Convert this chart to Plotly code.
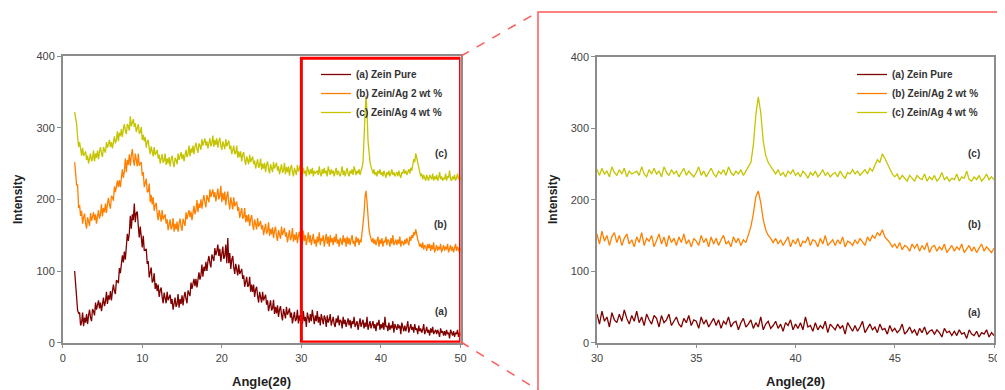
import numpy as np
import plotly.graph_objects as go

# Sampling grids (degrees 2-theta)
LOW_START, LOW_STEP = 1.5, 0.125     # 1.5 .. 29.875
HIGH_START, HIGH_STEP = 30.0, 0.125  # 30 .. 50

series_names = ["(a) Zein Pure", "(b) Zein/Ag 2 wt %", "(c) Zein/Ag 4 wt %"]
series_colors = ["#800000", "#FF8000", "#C4C400"]

# (a) Zein Pure, 1.5-29.875 deg
zein_pure_low = [
    100, 82, 74, 45, 41, 42, 24, 28, 42, 23, 35, 28, 40, 26, 38, 46,
    35, 30, 47, 44, 38, 56, 46, 52, 59, 48, 56, 44, 56, 63, 51, 57,
    71, 54, 66, 60, 72, 59, 72, 81, 72, 68, 87, 86, 83, 104, 97, 108,
    122, 112, 127, 116, 137, 152, 142, 153, 177, 159, 179, 171, 194, 168, 181, 183,
    163, 147, 162, 148, 133, 149, 129, 129, 131, 110, 114, 91, 101, 105, 84, 86,
    97, 75, 83, 72, 81, 64, 73, 77, 64, 55, 70, 63, 55, 71, 59, 63,
    67, 54, 61, 46, 57, 63, 50, 54, 68, 49, 61, 54, 66, 52, 64, 71,
    61, 55, 73, 70, 65, 84, 75, 82, 89, 79, 89, 77, 90, 98, 88, 94,
    109, 92, 106, 100, 113, 100, 113, 121, 111, 105, 123, 119, 114, 132, 122, 128,
    137, 121, 131, 113, 127, 134, 117, 121, 137, 111, 146, 111, 125, 103, 116, 121,
    105, 96, 110, 103, 94, 109, 96, 99, 103, 89, 94, 78, 88, 92, 78, 80,
    92, 71, 81, 71, 81, 64, 74, 78, 65, 56, 71, 64, 56, 71, 59, 63,
    67, 53, 59, 44, 54, 59, 45, 48, 60, 40, 50, 41, 52, 36, 46, 51,
    39, 31, 47, 41, 34, 50, 39, 43, 48, 35, 42, 27, 38, 43, 30, 33,
    46, 27, 38, 30,
]
# (a) Zein Pure, 30-50 deg
zein_pure_high = [
    40, 26, 44, 30, 36, 22, 42, 32,
    28, 40, 30, 46, 34, 26, 38, 30,
    44, 28, 36, 24, 40, 32, 26, 38,
    34, 22, 38, 28, 32, 40, 24, 30,
    36, 26, 22, 34, 28, 38, 24, 32,
    30, 20, 36, 26, 32, 22, 28, 34,
    24, 32, 20, 30, 26, 36, 22, 28,
    30, 18, 28, 34, 22, 26, 32, 20,
    28, 22, 36, 18, 26, 30, 20, 24,
    30, 20, 26, 16, 28, 24, 32, 18,
    26, 20, 28, 18, 36, 22, 24, 16,
    28, 18, 24, 20, 30, 14, 26, 22,
    18, 26, 20, 24, 12, 28, 22, 16,
    24, 16, 22, 30, 14, 20, 26, 18,
    22, 14, 26, 18, 20, 12, 24, 16,
    20, 14, 18, 26, 12, 16, 22, 14,
    18, 10, 20, 14, 22, 12, 16, 18,
    12, 18, 14, 8, 20, 14, 16, 10,
    16, 10, 18, 12, 14, 6, 18, 12,
    10, 16, 8, 14, 12, 18, 8, 14,
    10,
]

# (b) Zein/Ag 2 wt %, 1.5-29.875 deg
zein_ag2_low = [
    252, 230, 220, 220, 188, 192, 177, 184, 166, 175, 180, 167, 159, 175, 170, 163,
    181, 170, 176, 182, 171, 179, 166, 178, 185, 173, 179, 193, 176, 188, 182, 194,
    181, 194, 202, 192, 187, 205, 203, 198, 218, 210, 218, 226, 217, 227, 217, 231,
    242, 230, 239, 257, 238, 255, 248, 263, 247, 261, 270, 255, 247, 264, 257, 246,
    264, 247, 250, 252, 233, 238, 217, 226, 229, 210, 211, 222, 196, 206, 193, 203,
    184, 192, 195, 180, 171, 185, 178, 169, 185, 172, 176, 179, 166, 172, 157, 167,
    172, 158, 162, 174, 155, 166, 158, 169, 155, 166, 173, 162, 156, 173, 169, 163,
    182, 172, 179, 185, 175, 183, 171, 183, 191, 179, 185, 199, 182, 194, 188, 200,
    187, 199, 206, 195, 189, 206, 202, 196, 214, 203, 209, 214, 203, 210, 197, 208,
    215, 200, 205, 219, 196, 209, 199, 211, 192, 204, 211, 195, 186, 203, 196, 186,
    203, 190, 194, 197, 184, 189, 174, 183, 188, 173, 176, 188, 168, 178, 169, 179,
    163, 173, 178, 165, 157, 172, 166, 158, 174, 162, 166, 170, 158, 164, 150, 160,
    166, 152, 156, 168, 149, 159, 151, 161, 146, 156, 162, 149, 142, 157, 152, 145,
    162, 150, 155, 160, 148, 154, 140, 151, 157, 143, 147, 160, 141, 151, 143, 154,
    139, 149, 155, 143,
]
# (b) Zein/Ag 2 wt %, 30-50 deg
zein_ag2_high = [
    152, 138, 156, 142, 150, 136, 148, 154,
    140, 150, 136, 146, 152, 138, 144, 134,
    148, 140, 154, 136, 146, 142, 150, 134,
    144, 152, 138, 148, 134, 150, 140, 146,
    136, 148, 140, 152, 138, 144, 134, 146,
    142, 136, 150, 140, 146, 134, 148, 138,
    146, 136, 144, 150, 138, 142, 134, 148,
    140, 146, 136, 144, 140, 152, 162, 180,
    204, 212, 196, 172, 158, 150, 146, 140,
    146, 138, 144, 136, 142, 148, 134, 144,
    138, 146, 134, 142, 140, 148, 136, 144,
    142, 134, 146, 138, 150, 136, 140, 144,
    136, 144, 138, 148, 134, 142, 140, 136,
    144, 138, 146, 140, 136, 148, 142, 150,
    146, 154, 150, 158, 148, 144, 140, 134,
    138, 132, 140, 130, 136, 134, 128, 138,
    132, 138, 128, 136, 130, 140, 126, 134,
    136, 128, 134, 130, 138, 126, 132, 136,
    128, 134, 130, 138, 126, 132, 136, 128,
    134, 126, 132, 138, 128, 134, 130, 126,
    132,
]

# (c) Zein/Ag 4 wt %, 1.5-29.875 deg
zein_ag4_low = [
    322, 312, 305, 287, 273, 280, 270, 261, 272, 261, 263, 267, 255, 261, 250, 259,
    264, 253, 257, 268, 253, 264, 258, 268, 256, 267, 273, 264, 259, 273, 270, 265,
    280, 272, 277, 283, 273, 280, 271, 281, 288, 278, 283, 295, 281, 293, 288, 298,
    287, 298, 305, 296, 291, 305, 302, 296, 316, 302, 307, 312, 301, 306, 294, 301,
    305, 292, 293, 301, 283, 290, 281, 287, 272, 280, 283, 271, 263, 274, 268, 260,
    273, 262, 265, 269, 257, 262, 250, 258, 263, 251, 254, 264, 248, 257, 250, 259,
    246, 256, 261, 251, 245, 258, 255, 249, 264, 255, 260, 266, 256, 263, 253, 263,
    269, 259, 263, 275, 260, 271, 265, 275, 263, 273, 279, 270, 265, 278, 275, 269,
    284, 275, 280, 285, 275, 281, 271, 280, 285, 274, 278, 289, 273, 283, 276, 285,
    272, 281, 286, 275, 269, 281, 277, 270, 284, 274, 278, 282, 270, 275, 263, 271,
    275, 263, 265, 275, 258, 267, 259, 267, 253, 262, 266, 255, 248, 260, 256, 249,
    262, 252, 256, 260, 249, 254, 243, 251, 256, 244, 247, 257, 241, 250, 243, 251,
    238, 248, 253, 242, 236, 249, 245, 238, 252, 243, 247, 251, 240, 246, 235, 244,
    249, 237, 240, 251, 235, 245, 238, 246, 233, 243, 248, 238, 232, 244, 240, 234,
    248, 239, 243, 248,
]
# (c) Zein/Ag 4 wt %, 30-50 deg
zein_ag4_high = [
    242, 234, 244, 236, 240, 232, 246, 238,
    234, 242, 236, 244, 232, 240, 236, 238,
    240, 234, 246, 236, 232, 242, 236, 244,
    236, 240, 232, 246, 238, 234, 242, 236,
    240, 232, 238, 244, 234, 240, 236, 232,
    238, 246, 234, 240, 232, 238, 244, 236,
    232, 240, 236, 242, 234, 246, 238, 234,
    240, 236, 242, 234, 240, 244, 252, 276,
    318, 344, 322, 282, 262, 252, 246, 240,
    236, 242, 234, 238, 232, 240, 236, 242,
    234, 238, 232, 240, 236, 230, 238, 234,
    240, 232, 236, 242, 234, 238, 232, 236,
    238, 232, 240, 234, 230, 238, 236, 242,
    236, 240, 234, 238, 242, 236, 244, 240,
    248, 256, 252, 264, 258, 250, 244, 236,
    232, 236, 228, 234, 230, 226, 234, 230,
    226, 234, 230, 228, 236, 226, 232, 228,
    234, 226, 230, 238, 228, 232, 226, 230,
    228, 236, 226, 232, 230, 240, 228, 226,
    232, 228, 234, 226, 230, 236, 228, 232,
    228,
]

curve_labels = ["(a)", "(b)", "(c)"]
label_y_left = [43, 165, 264]
label_x_left = 47.5
label_y_right = [42, 166, 264]
label_x_right = 49.0

y_ticks = [0, 100, 200, 300, 400]
x_ticks_left = [0, 10, 20, 30, 40, 50]
x_ticks_right = [30, 35, 40, 45, 50]


def grid(n, start, step):
    return start + step * np.arange(n)


series = [
    (zein_pure_low, zein_pure_high),
    (zein_ag2_low, zein_ag2_high),
    (zein_ag4_low, zein_ag4_high),
]

fig = go.Figure()
FONT = "Arial, Liberation Sans, sans-serif"

for (low, high), name, color in zip(series, series_names, series_colors):
    x = np.concatenate([grid(len(low), LOW_START, LOW_STEP),
                        grid(len(high), HIGH_START, HIGH_STEP)])
    y = np.array(low + high, dtype=float)
    fig.add_trace(go.Scatter(x=x, y=y, mode="lines", name=name,
                             line=dict(color=color, width=1.3),
                             xaxis="x", yaxis="y", legend="legend"))
    fig.add_trace(go.Scatter(x=x, y=y, mode="lines", name=name,
                             line=dict(color=color, width=1.3),
                             xaxis="x2", yaxis="y2", legend="legend2"))

W, H = 1005, 390
OFF = 8  # the page body adds an 8 px margin around the figure


def px(p):
    return (p - OFF) / W


def py(p):
    return 1 - (p - OFF) / H


axis_common = dict(showline=True, linecolor="#8c8c8c", linewidth=1.5, mirror=True,
                   ticks="outside", ticklen=4, tickcolor="#8c8c8c", showgrid=False,
                   zeroline=False, automargin=False, ticklabeloverflow="allow",
                   tickfont=dict(family=FONT, size=11, color="#444444"))

legend_font = dict(family=FONT, size=10, color="#333333", weight="bold")
fig.update_layout(
    width=W, height=H,
    margin=dict(l=0, r=0, t=0, b=0, autoexpand=False),
    paper_bgcolor="white", plot_bgcolor="white",
    showlegend=True,
    xaxis=dict(domain=[px(62.7), px(460.5)], range=[0, 50], tickvals=x_ticks_left,
               anchor="y", **axis_common),
    yaxis=dict(domain=[py(342.7), py(56.0)], range=[0, 400], tickvals=y_ticks,
               anchor="x", **axis_common),
    xaxis2=dict(domain=[px(597.0), px(994.0)], range=[30, 50], tickvals=x_ticks_right,
                anchor="y2", **axis_common),
    yaxis2=dict(domain=[py(342.7), py(56.7)], range=[0, 400], tickvals=y_ticks,
                anchor="x2", **axis_common),
    legend=dict(x=px(316), y=py(60), xanchor="left", yanchor="top",
                bgcolor="rgba(0,0,0,0)", tracegroupgap=0, font=legend_font),
    legend2=dict(x=px(852), y=py(60), xanchor="left", yanchor="top",
                 bgcolor="rgba(0,0,0,0)", tracegroupgap=0, font=legend_font),
)

annotations = []
lab_font = dict(family=FONT, size=10, color="#333333", weight="bold")
for lab, yl, yr in zip(curve_labels, label_y_left, label_y_right):
    annotations.append(dict(x=label_x_left, y=yl, xref="x", yref="y", text=lab,
                            showarrow=False, font=lab_font))
    annotations.append(dict(x=label_x_right, y=yr, xref="x2", yref="y2", text=lab,
                            showarrow=False, font=lab_font))
# axis titles
title_font = dict(family=FONT, size=13, color="#222222", weight="bold")
for cx in [261.6, 795.5]:
    annotations.append(dict(x=px(cx), y=py(381), xref="paper", yref="paper",
                            xanchor="center", yanchor="middle",
                            text="Angle(2θ)", showarrow=False, font=title_font))
for cx in [18, 553]:
    annotations.append(dict(x=px(cx), y=py(199), xref="paper", yref="paper",
                            xanchor="center", yanchor="middle",
                            text="Intensity", textangle=-90, showarrow=False,
                            font=dict(family=FONT, size=12, color="#222222", weight="bold")))
fig.update_layout(annotations=annotations)

# zoom box on the left panel and the enlarged-view frame
shapes = [
    dict(type="rect", xref="x", yref="y", x0=30, x1=50, y0=1, y1=397,
         line=dict(color="#ff0000", width=3), fillcolor="rgba(0,0,0,0)"),
    dict(type="rect", xref="paper", yref="paper", x0=px(538), x1=1.05, y0=-0.05,
         y1=py(12), line=dict(color="#ff5a5a", width=1.5), fillcolor="rgba(0,0,0,0)"),
    dict(type="line", xref="paper", yref="paper", x0=px(461), y0=py(56),
         x1=px(538), y1=py(12), line=dict(color="#ff5a5a", width=1.5, dash="dash")),
    dict(type="line", xref="paper", yref="paper", x0=px(461), y0=py(342),
         x1=px(538), y1=py(390), line=dict(color="#ff5a5a", width=1.5, dash="dash")),
]
fig.update_layout(shapes=shapes)

fig.write_html("out.html")
